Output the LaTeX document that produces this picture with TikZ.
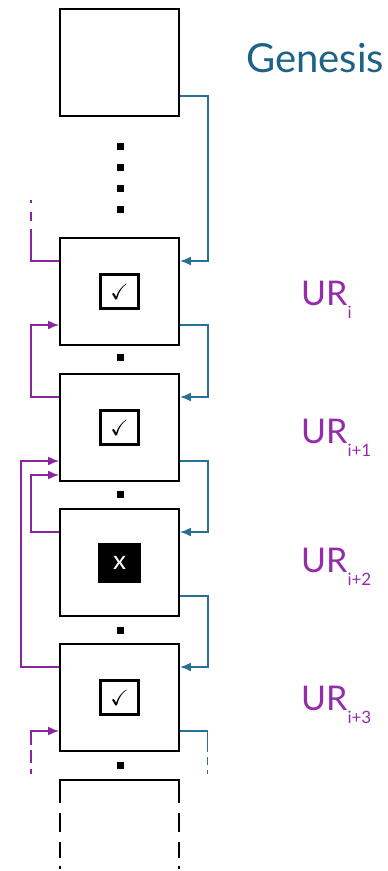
\documentclass[tikz,border=0pt]{standalone}
\usepackage{amssymb}
\usepackage{fontspec}
\setmainfont{Lato}
\usetikzlibrary{arrows.meta,calc}
\definecolor{bluec}{RGB}{40,112,148}
\definecolor{bluet}{RGB}{30,98,135}
\definecolor{purc}{RGB}{140,36,162}
\definecolor{purt}{RGB}{148,44,170}
\begin{document}
\begin{tikzpicture}[x=1pt,y=-1pt,
  blk/.style={draw,line width=1.8pt,minimum width=119pt,minimum height=107pt,inner sep=0pt},
  chk/.style={draw,line width=3pt,minimum width=38pt,minimum height=34pt,inner sep=0pt,font=\fontsize{22}{22}\selectfont},
  xbox/.style={fill=black,text=white,minimum width=43pt,minimum height=40pt,inner sep=0pt,font=\fontsize{26}{26}\selectfont},
  dotsq/.style={fill=black,minimum size=7pt,inner sep=0pt},
  bl/.style={draw=bluec,line width=1.8pt},
  pu/.style={draw=purc,line width=1.8pt},
  tip/.style={-{Latex[length=11pt,width=9pt]}},
  lab/.style={anchor=base west,inner sep=0pt,text=purt,font=\fontsize{34}{34}\selectfont}
]
\useasboundingbox (0,0) rectangle (388,871);
% boxes
\node[blk] (g) at (119.5,62.5) {};
\node[blk] (b1) at (119.5,291.5) {};
\node[blk] (b2) at (119.5,427.5) {};
\node[blk] (b3) at (119.5,562.5) {};
\node[blk] (b4) at (119.5,697.5) {};
% inner marks
\node[chk] (c1) at (b1) {$\checkmark$};
\node[chk] (c2) at (b2) {$\checkmark$};
\node[xbox] (x3) at (b3) {x};
\node[chk] (c4) at (b4) {$\checkmark$};
% dots
\node[dotsq] (d1) at (120.5,146.5) {};
\node[dotsq] (d2) at (120.5,167.5) {};
\node[dotsq] (d3) at (120.5,188.5) {};
\node[dotsq] (d4) at (120.5,209) {};
\node[dotsq] (d5) at (120.5,357.5) {};
\node[dotsq] (d6) at (120.5,494) {};
\node[dotsq] (d7) at (120.5,630) {};
\node[dotsq] (d8) at (120.5,765) {};
% bottom partial box
\coordinate (pl) at (60,803);
\coordinate (pr) at (179,803);
\draw[line width=1.8pt] (pl) -- (60,780) -- (179,780) -- (pr);
\foreach \xx in {60,179}{
  \draw[line width=1.8pt] (\xx,813) -- (\xx,832) (\xx,842) -- (\xx,858) (\xx,866) -- (\xx,869);
}
% labels
\node[anchor=base west,inner sep=0pt,text=bluet,font=\fontsize{40}{40}\selectfont] (gl) at (246,72) {Genesis};
\node[lab] (l1) at (301,305) {UR\raisebox{-13pt}{\fontsize{17}{17}\selectfont i}};
\node[lab] (l2) at (301,443) {UR\raisebox{-13pt}{\fontsize{17}{17}\selectfont i+1}};
\node[lab] (l3) at (301,572) {UR\raisebox{-13pt}{\fontsize{17}{17}\selectfont i+2}};
\node[lab] (l4) at (301,710) {UR\raisebox{-13pt}{\fontsize{17}{17}\selectfont i+3}};
% blue connectors
\draw[bl,tip] ($(g.east)+(0,33.5)$) -- ++(28,0) |- ($(b1.east)+(0,-30.5)$);
\draw[bl,tip] ($(b1.east)+(0,33.5)$) -- ++(28,0) |- ($(b2.east)+(0,-30.5)$);
\draw[bl,tip] ($(b2.east)+(0,33.5)$) -- ++(28,0) |- ($(b3.east)+(0,-30.5)$);
\draw[bl,tip] ($(b3.east)+(0,33.5)$) -- ++(28,0) |- ($(b4.east)+(0,-30.5)$);
\coordinate (be) at (207.5,752);
\draw[bl] ($(b4.east)+(0,33.5)$) -| (be);
\draw[bl] (207.5,757) -- (207.5,765) (207.5,770) -- (207.5,774);
% purple connectors
\coordinate (pt) at (31,229);
\draw[pu] ($(b1.west)+(0,-30.5)$) -| (pt);
\draw[pu] (31,212) -- (31,221) (31,200) -- (31,203);
\draw[pu,tip] ($(b2.west)+(0,-30.5)$) -- ++(-28.5,0) |- ($(b1.west)+(0,33.5)$);
\draw[pu,tip] ($(b3.west)+(0,-30.5)$) -- ++(-28.5,0) |- ($(b2.west)+(0,47.5)$);
\draw[pu,tip] ($(b4.west)+(0,-30.5)$) -- ++(-38.5,0) |- ($(b2.west)+(0,33.5)$);
\coordinate (pb) at (31,745);
\draw[pu,tip] (pb) |- ($(b4.west)+(0,33.5)$);
\draw[pu] (31,750) -- (31,763) (31,769) -- (31,774);
\end{tikzpicture}
\end{document}
